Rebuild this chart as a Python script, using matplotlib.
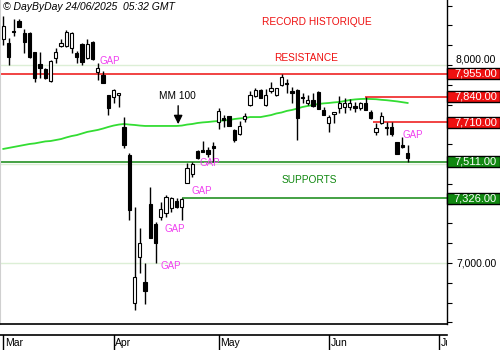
import matplotlib
matplotlib.use("Agg")
import matplotlib.pyplot as plt
from matplotlib.patches import Rectangle
from matplotlib.transforms import blended_transform_factory
import numpy as np

plt.rcParams['font.family'] = ['Liberation Sans', 'DejaVu Sans']

# daily candles, 3 Mar -> 23 Jun 2025 (one entry per trading day)
opens = [8131, 8111, 8172, 8222, 8162, 8162, 8066, 8005, 7980, 7919,
         8035, 8096, 8096, 8086, 8061, 8106, 8035, 8116, 7965, 7950,
         7848,
         7838, 7848, 7687, 7545, 6798, 7030, 6904, 7298, 7197, 7232,
         7253, 7278, 7313, 7283, 7404, 7450, 7566, 7571, 7571, 7591,
         7712, 7732, 7742, 7672, 7652, 7727, 7798, 7843, 7874, 7798,
         7869, 7848, 7899, 7909, 7869, 7874, 7838, 7808, 7823, 7864,
         7773, 7707, 7753, 7783, 7788, 7788, 7793, 7783, 7808, 7763,
         7662, 7707, 7687, 7687, 7611, 7596, 7556]
highs = [8247, 8136, 8232, 8232, 8182, 8167, 8066, 8066, 7985, 8025,
         8086, 8131, 8177, 8167, 8071, 8111, 8131, 8121, 8010, 7970,
         7848,
         7879, 7859, 7737, 7556, 7283, 7177, 7000, 7384, 7207, 7308,
         7343, 7333, 7328, 7328, 7505, 7510, 7571, 7616, 7586, 7611,
         7783, 7747, 7742, 7677, 7717, 7758, 7869, 7884, 7879, 7879,
         7914, 7884, 7955, 7929, 7889, 7879, 7859, 7848, 7859, 7869,
         7788, 7747, 7763, 7843, 7833, 7828, 7813, 7813, 7840, 7773,
         7707, 7763, 7710, 7710, 7611, 7636, 7596]
lows = [8101, 8000, 8146, 8190, 8061, 8035, 7914, 7934, 7929, 7914,
        8010, 8091, 8091, 8061, 8010, 8000, 8030, 8025, 7924, 7909,
        7747,
        7808, 7788, 7581, 7217, 6763, 6950, 6793, 7126, 7000, 7217,
        7232, 7258, 7278, 7217, 7404, 7434, 7525, 7561, 7535, 7510,
        7677, 7687, 7690, 7611, 7646, 7712, 7793, 7838, 7833, 7793,
        7859, 7843, 7894, 7859, 7808, 7621, 7808, 7798, 7788, 7778,
        7747, 7662, 7707, 7758, 7758, 7773, 7763, 7773, 7773, 7727,
        7646, 7702, 7646, 7641, 7551, 7581, 7511]
closes = [8197, 8040, 8166, 8192, 8116, 8040, 7934, 7985, 7934, 8020,
          8066, 8111, 8167, 8162, 8040, 8015, 8106, 8030, 7985, 7909,
          7783,
          7874, 7859, 7596, 7268, 6929, 7101, 6859, 7126, 7101, 7273,
          7333, 7328, 7283, 7323, 7480, 7500, 7530, 7561, 7551, 7581,
          7765, 7722, 7692, 7621, 7692, 7742, 7848, 7874, 7833, 7848,
          7884, 7884, 7939, 7904, 7859, 7732, 7833, 7823, 7793, 7778,
          7747, 7737, 7763, 7808, 7808, 7808, 7783, 7808, 7773, 7732,
          7682, 7742, 7682, 7652, 7551, 7586, 7530]

# 100-day moving average
ma100 = [7576, 7581, 7586, 7591, 7596, 7601, 7604, 7609, 7614, 7616,
         7621, 7626, 7634, 7641, 7646, 7654, 7662, 7667, 7672, 7679,
         7687,
         7694, 7699, 7702, 7699, 7697, 7694, 7692, 7692, 7692, 7692,
         7692, 7692, 7692, 7694, 7699, 7702, 7707, 7710, 7712, 7715,
         7717, 7720, 7722, 7727, 7730, 7732, 7737, 7737, 7737, 7742,
         7747, 7755, 7760, 7768, 7773, 7780, 7788, 7793, 7798, 7803,
         7806, 7808, 7811, 7813, 7818, 7823, 7826, 7828, 7829, 7828,
         7827, 7824, 7822, 7819, 7816, 7812, 7808]

months = ['Mar', 'Apr', 'May', 'Jun', 'Jul']
month_start = [0, 21, 41, 62, 83]

resist_levels = [7955, 7840, 7710]
resist_from = [None, 68.8, 70.5]
support_levels = [7511, 7326]
support_from = [None, 34]

price_labels = [7000, 8000]

gap_labels = [(20.3, 8020), (39.4, 7505), (37.8, 7364),
              (32.7, 7172), (31.9, 6985), (78.0, 7646)]

RED = '#ee1010'
DKGREEN = '#118811'
MAGENTA = '#f040f0'
XMIN, XMAX = -0.63, 84.5

fig = plt.figure(figsize=(5, 3.5), dpi=100)
ax = fig.add_axes([0, 26 / 350, 447 / 500, 324 / 350])
ax.set_xlim(XMIN, XMAX)
ax.set_ylim(6692, 8328)

idx = np.arange(len(closes))

# light grid
for g in [7000, 7500, 8000]:
    ax.axhline(g, color='#dcefd6', lw=1, zorder=1)

# resistance / support lines
for lvl, start in zip(resist_levels, resist_from):
    ax.hlines(lvl, XMIN if start is None else start, XMAX, color=RED, lw=1.1, zorder=2)
for lvl, start in zip(support_levels, support_from):
    ax.hlines(lvl, XMIN if start is None else start, XMAX, color=DKGREEN, lw=1.1, zorder=2)

ax.plot(idx, ma100, color='#33dd33', lw=1.3, zorder=3)

# candles
o = np.array(opens)
c = np.array(closes)
ax.vlines(idx, lows, highs, color='black', lw=1, zorder=4)
up = c >= o
ax.bar(idx[up], c[up] - o[up], bottom=o[up], width=0.62, color='white',
       edgecolor='black', linewidth=0.8, zorder=5)
ax.bar(idx[~up], o[~up] - c[~up], bottom=c[~up], width=0.62, color='black',
       edgecolor='black', linewidth=0.8, zorder=5)

# annotations
txt = dict(fontsize=7.3, ha='center', va='center', zorder=6)
ax.text(59.8, 8217, 'RECORD HISTORIQUE', color=RED, **txt)
ax.text(57.7, 8035, 'RESISTANCE', color=RED, **txt)
ax.text(58.2, 7419, 'SUPPORTS', color=DKGREEN, **txt)
ax.text(33.1, 7843, 'MM 100', color='black', **txt)
ax.annotate('', xy=(33.3, 7687), xytext=(33.3, 7808),
            arrowprops=dict(arrowstyle='-|>', color='black', lw=1, mutation_scale=13),
            zorder=6)
for gx, gy in gap_labels:
    ax.text(gx, gy, 'GAP', color=MAGENTA, fontsize=7, ha='center', va='center', zorder=6)

fig.text(3 / 500, 1 - 2 / 350, '\u00a9 DayByDay 24/06/2025  05:32 GMT', fontsize=7.5,
         style='italic', ha='left', va='top')

# right price axis: ticks every 100, values written by hand so they clear the boxes
ax.yaxis.tick_right()
ax.set_yticks(np.arange(6700, 8400, 100))
ax.set_yticklabels([])
ax.tick_params(axis='y', which='both', length=3.5, width=0.8, color='black')
ax.set_xticks([])
ax.spines['top'].set_visible(False)
ax.spines['left'].set_color('#d0d0d0')
ax.spines['right'].set_linewidth(1)
ax.spines['bottom'].set_linewidth(1.2)

tr = blended_transform_factory(fig.transFigure, ax.transData)
for v in price_labels:
    va = 'bottom' if v == 8000 else 'center'
    yy = v + 4 if v == 8000 else v
    ax.text(456 / 500, yy, f'{v:,.2f}', transform=tr, fontsize=7.5, ha='left',
            va=va, clip_on=False)

# boxed level values
box_h = 55
for lvl, col in [(v, RED) for v in resist_levels] + [(v, DKGREEN) for v in support_levels]:
    ax.add_patch(Rectangle((447 / 500, lvl - box_h / 2), 53 / 500, box_h, transform=tr,
                           facecolor=col, edgecolor='black', lw=1, clip_on=False, zorder=10))
    ax.text(497 / 500, lvl, f'{lvl:,.2f}', transform=tr, color='white', fontsize=8,
            ha='right', va='center', clip_on=False, zorder=11)

# month strip
ax2 = fig.add_axes([0, 0, 447 / 500, 15 / 350])
ax2.set_xlim(XMIN, XMAX)
ax2.set_ylim(0, 1)
ax2.set_xticks([])
ax2.set_yticks([])
for side in ['left', 'right', 'bottom']:
    ax2.spines[side].set_visible(False)
ax2.spines['top'].set_linewidth(1.2)
for m, s in zip(months, month_start):
    ax2.axvline(s, color='black', lw=1)
    ax2.text(s + 0.3, 0.45, m, fontsize=7.5, ha='left', va='center', clip_on=True)

fig.savefig('out.png', dpi=100, facecolor='white')
